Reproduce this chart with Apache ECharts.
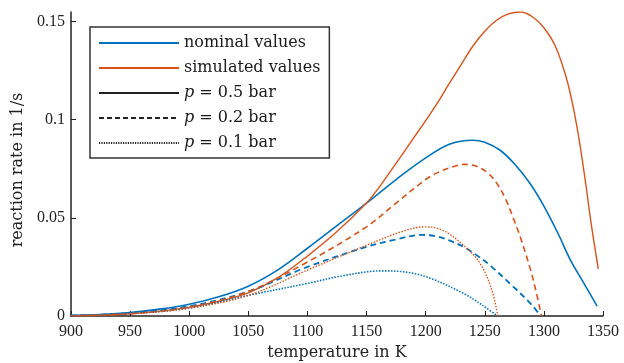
<!DOCTYPE html>
<html>
<head>
<meta charset="utf-8">
<script src="https://cdn.jsdelivr.net/npm/echarts@6/dist/echarts.min.js"></script>
<style>
  html, body { margin: 0; padding: 0; background: #fff; }
  #main { width: 624px; height: 363px; }
</style>
</head>
<body>
<div id="main"></div>
<script>
// temperatures (K) and reaction rates (1/s)
const nom05T = [900, 925, 950, 975, 1000, 1025, 1050, 1075, 1100, 1125, 1150, 1175, 1200, 1220, 1240, 1250, 1263, 1275, 1288, 1300, 1312, 1322, 1334, 1345]
const nom05V = [0.0003, 0.0008, 0.0018, 0.0035, 0.006, 0.0098, 0.0152, 0.0235, 0.0345, 0.046, 0.0575, 0.0695, 0.0805, 0.0875, 0.0895, 0.0885, 0.0844, 0.0775, 0.0677, 0.056, 0.042, 0.029, 0.0165, 0.005]

const sim05T = [900, 925, 950, 975, 1000, 1025, 1050, 1075, 1100, 1125, 1150, 1160, 1170, 1180, 1190, 1200, 1210, 1220, 1230, 1240, 1250, 1260, 1270, 1280, 1290, 1300, 1310, 1320, 1328, 1335, 1340, 1346]
const sim05V = [0.0001, 0.0004, 0.0012, 0.0025, 0.0045, 0.0075, 0.0118, 0.0195, 0.0305, 0.043, 0.0575, 0.065, 0.0735, 0.082, 0.0908, 0.0995, 0.1085, 0.1185, 0.128, 0.1375, 0.145, 0.1506, 0.1538, 0.1548, 0.1525, 0.1468, 0.137, 0.119, 0.0963, 0.069, 0.047, 0.024]

const nom02T = [900, 950, 1000, 1050, 1100, 1150, 1175, 1196, 1210, 1220, 1232, 1243, 1254, 1274, 1290, 1297]
const nom02V = [0.0002, 0.0015, 0.005, 0.0125, 0.025, 0.0352, 0.039, 0.0413, 0.0405, 0.0385, 0.0352, 0.031, 0.026, 0.015, 0.0055, 0]

const sim02T = [900, 950, 1000, 1050, 1100, 1150, 1175, 1200, 1210, 1220, 1233, 1243, 1253, 1261, 1268, 1274, 1280, 1288, 1293, 1298]
const sim02V = [0.0001, 0.0012, 0.0045, 0.0125, 0.0275, 0.0454, 0.0575, 0.0695, 0.073, 0.0754, 0.0772, 0.0762, 0.0726, 0.0668, 0.059, 0.05, 0.0403, 0.025, 0.0135, 0]

const nom01T = [900, 950, 1000, 1050, 1100, 1130, 1163, 1185, 1204, 1232, 1248, 1260]
const nom01V = [0.0002, 0.0013, 0.004, 0.0105, 0.0166, 0.0205, 0.023, 0.0222, 0.0192, 0.0115, 0.0055, 0.0003]

const sim01T = [900, 950, 1000, 1050, 1100, 1150, 1180, 1199, 1215, 1232, 1246, 1256, 1261]
const sim01V = [0.0001, 0.0011, 0.004, 0.0105, 0.0234, 0.036, 0.043, 0.0454, 0.0435, 0.036, 0.0268, 0.0132, 0]

const xTicks = [900, 950, 1000, 1050, 1100, 1150, 1200, 1250, 1300, 1350]
const yTicks = [0, 0.05, 0.1, 0.15]

const zip = (t, v) => t.map((x, i) => [x, v[i]])

const blue = '#0072BD'
const orange = '#D95319'
const serif = 'Liberation Serif'
const wordFont = 'DejaVu Serif'

const curve = (name, color, t, v, type, width) => ({
  name,
  type: 'line',
  data: zip(t, v),
  showSymbol: false,
  symbol: 'none',
  smooth: 0.35,
  color,
  lineStyle: { color, width, type },
  z: 3
})

const dummy = (name, type) => ({
  name,
  type: 'line',
  data: [],
  symbol: 'none',
  color: '#222',
  lineStyle: { color: '#222', width: 1.5, type }
})

let myChart = echarts.init(document.getElementById('main'))
myChart.setOption({
  animation: false,
  grid: { left: 71, right: 21, top: 12, bottom: 47, outerBoundsMode: 'none', containLabel: false },
  legend: {
    orient: 'vertical',
    left: 90,
    top: 27,
    padding: [8, 9, 7, 8],
    itemGap: 9,
    itemWidth: 80,
    itemHeight: 14,
    borderColor: '#333',
    borderWidth: 1.5,
    backgroundColor: '#fff',
    itemStyle: { opacity: 0 },
    data: ['nominal values', 'simulated values', 'p05', 'p02', 'p01'],
    formatter: function (name) {
      if (name === 'p05') return '{i|p} = 0.5 bar'
      if (name === 'p02') return '{i|p} = 0.2 bar'
      if (name === 'p01') return '{i|p} = 0.1 bar'
      return name
    },
    textStyle: {
      fontFamily: wordFont,
      fontSize: 16,
      color: '#1a1a1a',
      rich: {
        i: { fontFamily: wordFont, fontStyle: 'italic', fontSize: 16, color: '#1a1a1a' }
      }
    }
  },
  xAxis: {
    type: 'value',
    min: 900,
    max: 1350,
    interval: 50,
    name: 'temperature in K',
    nameLocation: 'middle',
    nameGap: 29,
    nameTextStyle: { fontFamily: wordFont, fontSize: 16, color: '#222' },
    axisLine: { lineStyle: { color: '#222', width: 1.5 } },
    axisTick: { inside: true, length: 5, lineStyle: { color: '#222' }, customValues: xTicks },
    axisLabel: {
      fontFamily: serif,
      fontSize: 16,
      color: '#222',
      margin: 8,
      customValues: xTicks,
      formatter: function (value) { return String(value) }
    },
    splitLine: { show: false }
  },
  yAxis: {
    type: 'value',
    min: 0,
    max: 0.1548,
    name: 'reaction rate in 1/s',
    nameLocation: 'middle',
    nameGap: 34,
    nameTextStyle: { fontFamily: wordFont, fontSize: 16, color: '#222', padding: [0, 12, 0, 0] },
    axisLine: { show: true, lineStyle: { color: '#222', width: 1.5 } },
    axisTick: { show: true, inside: true, length: 5, lineStyle: { color: '#222' }, customValues: yTicks },
    axisLabel: {
      fontFamily: serif,
      fontSize: 16,
      color: '#222',
      margin: 6,
      customValues: yTicks,
      formatter: function (value) { return String(value) }
    },
    splitLine: { show: false }
  },
  series: [
    curve('nominal values', blue, nom05T, nom05V, 'solid', 1.6),
    curve('simulated values', orange, sim05T, sim05V, 'solid', 1.4),
    curve('nominal 0.2', blue, nom02T, nom02V, [6, 4], 1.8),
    curve('simulated 0.2', orange, sim02T, sim02V, [6, 4], 1.6),
    curve('nominal 0.1', blue, nom01T, nom01V, [1.5, 1.5], 1.6),
    curve('simulated 0.1', orange, sim01T, sim01V, [1.5, 1.5], 1.4),
    dummy('p05', 'solid'),
    dummy('p02', [5, 3]),
    dummy('p01', [1.2, 1.2])
  ]
})
window.addEventListener('resize', () => {
  myChart.resize()
})
</script>
</body>
</html>
